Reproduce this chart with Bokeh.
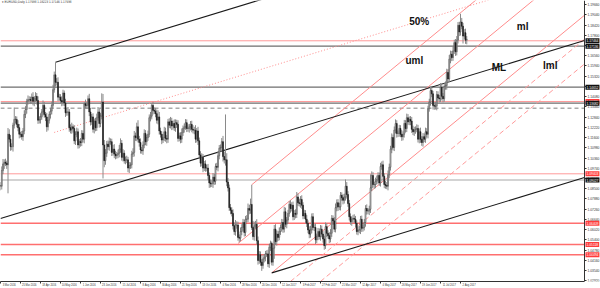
from bokeh.plotting import figure
from bokeh.models import Range1d, FixedTicker, Label, LinearAxis
from bokeh.embed import file_html
from bokeh.resources import INLINE
from bokeh.core.properties import value

# ---------------- data ----------------
date_labels = ["3 Mar 2016", "25 Mar 2016", "18 Apr 2016", "10 May 2016", "1 Jun 2016",
               "23 Jun 2016", "15 Jul 2016", "8 Aug 2016", "30 Aug 2016", "21 Sep 2016",
               "13 Oct 2016", "4 Nov 2016", "28 Nov 2016", "20 Dec 2016", "12 Jan 2017",
               "3 Feb 2017", "27 Feb 2017", "21 Mar 2017", "12 Apr 2017", "4 May 2017",
               "26 May 2017", "19 Jun 2017", "11 Jul 2017", "2 Aug 2017"]
bars_per_label = 16

first_open = 1.0870
closes = [
    1.0865, 1.0960, 1.1000, 1.1010, 1.1005, 1.0995, 1.1180, 1.1150, 1.1105, 1.1105,
    1.1235, 1.1270, 1.1270, 1.1240, 1.1220, 1.1180, 1.1180, 1.1165, 1.1200, 1.1300,
    1.1330, 1.1380, 1.1390, 1.1390, 1.1385, 1.1405, 1.1380, 1.1395, 1.1410, 1.1385,
    1.1265, 1.1270, 1.1285, 1.1315, 1.1355, 1.1300, 1.1285, 1.1225, 1.1265, 1.1300,
    1.1320, 1.1355, 1.1450, 1.1540, 1.1495, 1.1495, 1.1405, 1.1405, 1.1385, 1.1375,
    1.1430, 1.1370, 1.1310, 1.1315, 1.1315, 1.1220, 1.1205, 1.1225, 1.1215, 1.1140,
    1.1180, 1.1195, 1.1115, 1.1135, 1.1130, 1.1185, 1.1150, 1.1365, 1.1355, 1.1355,
    1.1395, 1.1315, 1.1255, 1.1285, 1.1210, 1.1260, 1.1220, 1.1280, 1.1315, 1.1245,
    1.1290, 1.1375, 1.1115, 1.1020, 1.1065, 1.1120, 1.1105, 1.1135, 1.1135, 1.1070,
    1.1090, 1.1060, 1.1050, 1.1055, 1.1065, 1.1090, 1.1125, 1.1040, 1.1065, 1.1020,
    1.1025, 1.1025, 1.0975, 1.0990, 1.0995, 1.1060, 1.1070, 1.1170, 1.1160, 1.1225,
    1.1150, 1.1130, 1.1085, 1.1080, 1.1115, 1.1185, 1.1135, 1.1160, 1.1180, 1.1280,
    1.1290, 1.1355, 1.1325, 1.1320, 1.1305, 1.1265, 1.1285, 1.1200, 1.1180, 1.1145,
    1.1160, 1.1195, 1.1155, 1.1150, 1.1255, 1.1235, 1.1260, 1.1230, 1.1245, 1.1220,
    1.1250, 1.1240, 1.1155, 1.1170, 1.1150, 1.1190, 1.1215, 1.1225, 1.1250, 1.1215,
    1.1215, 1.1225, 1.1240, 1.1210, 1.1205, 1.1205, 1.1150, 1.1200, 1.1140, 1.1055,
    1.1005, 1.1040, 1.0975, 1.1000, 1.0975, 1.0975, 1.0930, 1.0885, 1.0880, 1.0880,
    1.0920, 1.0895, 1.0985, 1.0980, 1.1050, 1.1095, 1.1100, 1.1135, 1.1045, 1.1025,
    1.1025, 1.0890, 1.0855, 1.0735, 1.0720, 1.0700, 1.0625, 1.0590, 1.0630, 1.0630,
    1.0555, 1.0550, 1.0590, 1.0615, 1.0645, 1.0585, 1.0665, 1.0665, 1.0730, 1.0720,
    1.0755, 1.0615, 1.0560, 1.0625, 1.0635, 1.0535, 1.0415, 1.0450, 1.0405, 1.0385,
    1.0425, 1.0435, 1.0455, 1.0455, 1.0395, 1.0495, 1.0520, 1.0405, 1.0490, 1.0605,
    1.0530, 1.0575, 1.0555, 1.0590, 1.0615, 1.0645, 1.0605, 1.0710, 1.0635, 1.0660,
    1.0700, 1.0755, 1.0730, 1.0750, 1.0680, 1.0700, 1.0695, 1.0800, 1.0765, 1.0760,
    1.0785, 1.0750, 1.0685, 1.0700, 1.0665, 1.0640, 1.0600, 1.0575, 1.0600, 1.0680,
    1.0615, 1.0615, 1.0540, 1.0560, 1.0590, 1.0560, 1.0605, 1.0575, 1.0545, 1.0505,
    1.0620, 1.0580, 1.0565, 1.0545, 1.0580, 1.0670, 1.0655, 1.0605, 1.0735, 1.0765,
    1.0740, 1.0740, 1.0810, 1.0795, 1.0780, 1.0800, 1.0865, 1.0815, 1.0760, 1.0680,
    1.0650, 1.0665, 1.0670, 1.0665, 1.0640, 1.0590, 1.0600, 1.0600, 1.0665, 1.0610,
    1.0615, 1.0645, 1.0730, 1.0715, 1.0715, 1.0725, 1.0855, 1.0930, 1.0875, 1.0875,
    1.0895, 1.0905, 1.0930, 1.0885, 1.0985, 1.0995, 1.0925, 1.0875, 1.0870, 1.0865,
    1.0935, 1.0980, 1.1090, 1.1160, 1.1100, 1.1205, 1.1245, 1.1185, 1.1185, 1.1215,
    1.1180, 1.1165, 1.1180, 1.1245, 1.1215, 1.1280, 1.1255, 1.1270, 1.1260, 1.1210,
    1.1195, 1.1205, 1.1210, 1.1215, 1.1150, 1.1195, 1.1150, 1.1130, 1.1165, 1.1150,
    1.1195, 1.1180, 1.1335, 1.1375, 1.1445, 1.1425, 1.1355, 1.1350, 1.1350, 1.1420,
    1.1400, 1.1395, 1.1465, 1.1410, 1.1395, 1.1470, 1.1475, 1.1555, 1.1515, 1.1635,
    1.1665, 1.1645, 1.1685, 1.1735, 1.1680, 1.1750, 1.1840, 1.1800, 1.1860, 1.1835,
    1.1775, 1.1795, 1.1750, 1.1755]

upper_wick_pips = [
    20, 25, 30, 18, 22, 15, 38, 30, 25, 20,  15, 72, 20, 18, 25, 22, 15, 20, 18, 25,
    20, 15, 25, 20, 18, 22, 30, 15, 25, 20,  25, 20, 22, 18, 30, 20, 15, 25, 20, 18,
    20, 22, 30, 20, 76, 25, 30, 20, 18, 25,  20, 15, 25, 20, 30, 18, 20, 25, 15, 20,
    18, 25, 20, 15, 22, 20, 18, 10, 25, 20,  20, 30, 25, 18, 22, 15, 20, 25, 30, 20,
    18, 53, 49, 30, 25, 20, 22, 25, 20, 18,  25, 30, 20, 18, 22, 25, 30, 20, 25, 18,
    20, 25, 18, 22, 15, 20, 25, 30, 20, 25,  40, 20, 25, 18, 22, 25, 20, 18, 22, 20,
    25, 11, 22, 18, 20, 25, 40, 30, 20, 18,  22, 30, 25, 20, 18, 22, 25, 20, 18, 25,
    20, 18, 25, 20, 22, 25, 18, 20, 22, 20,  25, 18, 20, 22, 25, 20, 30, 18, 25, 20,
    22, 25, 20, 18, 22, 20, 25, 18, 20, 22,  25, 20, 18, 22, 25, 20, 18, 22, 35, 30,
    275, 40, 25, 20, 22, 18, 25, 20, 30, 22, 20, 18, 25, 20, 22, 18, 20, 25, 30, 22,
    35, 119, 40, 25, 20, 30, 25, 22, 20, 18, 25, 20, 18, 22, 25, 20, 15, 10, 22, 25,
    30, 22, 20, 25, 18, 22, 20, 30, 25, 18,  22, 20, 25, 18, 22, 20, 25, 30, 22, 25,
    20, 25, 18, 22, 20, 25, 18, 22, 25, 20,  22, 20, 25, 18, 22, 20, 25, 22, 18, 20,
    25, 20, 18, 22, 25, 20, 18, 22, 25, 20,  22, 25, 20, 18, 22, 20, 41, 25, 20, 22,
    20, 18, 22, 25, 20, 18, 22, 25, 20, 22,  18, 22, 20, 25, 18, 22, 82, 25, 20, 18,
    22, 25, 20, 18, 22, 20, 25, 18, 22, 20,  25, 22, 20, 25, 18, 22, 25, 20, 18, 22,
    20, 25, 18, 22, 20, 25, 22, 18, 20, 25,  22, 20, 18, 25, 22, 20, 25, 18, 22, 20,
    25, 22, 18, 20, 25, 22, 18, 20, 25, 22,  20, 18, 25, 22, 20, 18, 25, 22, 20, 25,
    22, 20, 25, 18, 22, 25, 20, 22, 50, 25,  20, 22, 25, 20]

lower_wick_pips = [
    25, 20, 22, 30, 18, 25, 173, 20, 25, 22, 30, 20, 25, 18, 22, 25, 20, 18, 25, 20,
    22, 25, 20, 18, 22, 20, 25, 30, 20, 25,  22, 20, 25, 18, 22, 20, 25, 30, 22, 20,
    25, 20, 22, 18, 25, 20, 25, 22, 20, 25,  22, 20, 25, 18, 22, 25, 20, 22, 25, 20,
    25, 18, 22, 20, 25, 22, 20, 25, 18, 22,  20, 25, 22, 18, 20, 25, 22, 20, 18, 25,
    22, 20, 203, 40, 25, 22, 20, 25, 18, 22, 20, 25, 22, 18, 20, 25, 22, 20, 25, 18,
    22, 20, 25, 30, 20, 22, 18, 25, 20, 22,  20, 25, 22, 18, 25, 20, 22, 25, 20, 18,
    22, 20, 25, 18, 22, 20, 25, 22, 20, 25,  18, 22, 20, 25, 22, 18, 20, 25, 22, 20,
    25, 22, 20, 18, 25, 22, 20, 25, 18, 22,  20, 25, 22, 18, 20, 25, 22, 20, 25, 18,
    22, 20, 25, 18, 22, 20, 25, 30, 22, 20,  25, 22, 20, 18, 25, 22, 20, 25, 30, 22,
    35, 25, 22, 20, 25, 18, 22, 20, 25, 22,  20, 25, 18, 22, 20, 25, 22, 20, 18, 25,
    22, 15, 20, 25, 18, 22, 25, 20, 22, 33,  20, 22, 25, 18, 20, 25, 22, 20, 22, 65,
    20, 25, 22, 18, 20, 25, 22, 20, 18, 25,  22, 20, 25, 18, 22, 20, 25, 22, 20, 18,
    25, 22, 20, 18, 25, 22, 20, 25, 22, 20,  18, 22, 25, 20, 22, 18, 25, 20, 22, 25,
    20, 22, 18, 25, 20, 22, 25, 18, 20, 22,  25, 20, 22, 18, 25, 20, 22, 25, 20, 22,
    18, 25, 22, 20, 25, 18, 22, 20, 25, 22,  20, 18, 25, 22, 20, 25, 22, 20, 18, 25,
    22, 20, 25, 18, 22, 20, 25, 22, 20, 18,  25, 22, 20, 25, 18, 22, 20, 25, 22, 20,
    18, 25, 22, 20, 25, 22, 18, 20, 25, 22,  20, 25, 22, 18, 20, 25, 22, 20, 25, 18,
    22, 20, 25, 18, 22, 20, 25, 22, 20, 25,  18, 22, 20, 25, 22, 18, 20, 25, 22, 20,
    25, 22, 20, 18, 25, 22, 20, 25, 22, 18,  45, 20, 22, 25]

# horizontal levels
red_levels = [1.17464, 1.13785, 1.09403]
red_strong_levels = [1.06409, 1.05118, 1.04494]
black_levels = [1.17136, 1.14652, 1.13682]
grey_levels = [1.09027]
dashed_levels = [1.13379]

# right price scale
price_ticks = [1.02920, 1.03540, 1.04160, 1.04780, 1.05400, 1.06020, 1.06640, 1.07260,
               1.07880, 1.08500, 1.09120, 1.09740, 1.10360, 1.10980, 1.11600, 1.12220,
               1.12840, 1.13460, 1.14080, 1.14700, 1.15320, 1.15940, 1.16560, 1.17180,
               1.17800, 1.18420, 1.19040, 1.19660]

# black pitchfork: anchors (bar, price), common slope per bar
black_slope = 0.000231
fork_median = (0, 1.0669)
fork_upper = (44, 1.1616)
fork_lower = (217, 1.0340)
fork_half = (43, 1.1191)

# red pitchfork lines: anchors (bar, price), common slope per bar
red_slope = 0.000624
red_solid = [(201, 1.0874), (190, 1.0518), (217, 1.0340)]
red_dashed = [(232, 1.0288), (256, 1.0288)]

title_text = "\u25BE EURUSD,Daily  1.17698 1.18223 1.17146 1.17698"

# ---------------- figure ----------------
n = len(closes)
x_end = 467.2          # last visible bar position (price scale sits here)
x_full = 480.0         # frame includes the price-scale strip
y_lo, y_hi = 1.02876, 1.19906

p = figure(frame_width=600, frame_height=281, x_range=Range1d(0, x_full),
           y_range=Range1d(y_lo, y_hi), y_axis_location=None,
           output_backend="svg", toolbar_location=None,
           min_border_left=0, min_border_top=0, min_border_right=0, min_border_bottom=7)
p.outline_line_color = None
p.xgrid.visible = False
p.ygrid.visible = False
p.background_fill_color = "white"
p.border_fill_color = "white"

# horizontal lines
for lv in red_levels:
    p.line([0, x_end], [lv, lv], line_color="#ff9a9a", line_width=1)
for lv in red_strong_levels:
    p.line([0, x_end], [lv, lv], line_color="#ff6f6f", line_width=1.6)
for lv in black_levels:
    p.line([0, x_end], [lv, lv], line_color="#6e6e6e", line_width=1.2)
for lv in grey_levels:
    p.line([0, x_end], [lv, lv], line_color="#a8a8a8", line_width=1.2)
for lv in dashed_levels:
    p.line([0, x_end], [lv, lv], line_color="#aaaaaa", line_width=1.4, line_dash="4 3")


def ext(anchor, slope, x0=None, x1=x_end):
    bx, by = anchor
    if x0 is None:
        x0 = bx
    return [x0, x1], [by + slope * (x0 - bx), by + slope * (x1 - bx)]


# red pitchfork
for a in red_solid:
    xs, ys = ext(a, red_slope)
    p.line(xs, ys, line_color="#ff8c8c", line_width=1)
for a in red_dashed:
    xs, ys = ext(a, red_slope)
    p.line(xs, ys, line_color="#ff9a9a", line_width=1, line_dash="5 3")

# black pitchfork
for a in (fork_median, fork_upper, fork_lower):
    xs, ys = ext(a, black_slope)
    p.line(xs, ys, line_color="#1a1a1a", line_width=1.1)
xs, ys = ext(fork_half, black_slope)
p.line(xs, ys, line_color="#ff8c8c", line_width=1, line_dash="1 2")

# candles
opens = [first_open] + closes[:-1]
idx = list(range(n))
tops = [max(o, c) for o, c in zip(opens, closes)]
bots = [min(o, c) for o, c in zip(opens, closes)]
highs = [t + u / 10000 for t, u in zip(tops, upper_wick_pips)]
lows = [b - l / 10000 for b, l in zip(bots, lower_wick_pips)]
p.segment(x0=idx, y0=lows, x1=idx, y1=highs, line_color="#8a8a8a", line_width=1)
bull = [i for i in idx if closes[i] >= opens[i]]
bear = [i for i in idx if closes[i] < opens[i]]
p.vbar(x=bull, width=0.7, top=[tops[i] for i in bull], bottom=[bots[i] for i in bull],
       fill_color="white", line_color="#444444", line_width=0.6)
p.vbar(x=bear, width=0.7, top=[tops[i] for i in bear], bottom=[bots[i] for i in bear],
       fill_color="#1a1a1a", line_color="#1a1a1a", line_width=0.6)

# text annotations
font = value("Liberation Sans")
for tx, ty, tt in ((327, 1.1833, "50%"), (413, 1.1797, "ml"), (324, 1.1591, "uml"),
                   (393, 1.1554, "ML"), (434, 1.1566, "lml")):
    p.text(x=[tx], y=[ty], text=[tt], text_font=font, text_font_style="bold",
           text_font_size="10px", text_color="#111111", text_baseline="bottom")

p.add_layout(Label(x=1, y=1.1985, text=title_text, text_font_size="3px",
                   text_color="#333333", text_baseline="middle"))

# price scale (library axis placed at the last-bar edge)
yax = LinearAxis(fixed_location=x_end)
yax.ticker = FixedTicker(ticks=price_ticks)
yax.major_label_overrides = {t: "%.5f" % t for t in price_ticks}
yax.major_label_text_font_size = "3.3px"
yax.major_label_text_color = "#333333"
yax.major_label_standoff = 1
yax.major_tick_out = 2
yax.major_tick_in = 0
yax.minor_tick_out = 0
yax.minor_tick_in = 0
yax.axis_line_color = "#333333"
yax.major_tick_line_color = "#333333"
p.add_layout(yax, "right")

label_ticks = [k * bars_per_label for k in range(len(date_labels))]
label_centers = [t + 7 for t in label_ticks]
xax = p.xaxis[0]
xax.ticker = FixedTicker(ticks=label_centers, minor_ticks=label_ticks)
xax.major_label_overrides = {c: d for c, d in zip(label_centers, date_labels)}
xax.major_label_text_font_size = "2.6px"
xax.major_label_text_color = "#333333"
xax.major_label_standoff = 1
xax.major_tick_out = 0
xax.major_tick_in = 0
xax.minor_tick_out = 2
xax.minor_tick_in = 0
xax.axis_line_color = "#333333"
xax.minor_tick_line_color = "#333333"
xax.bounds = (0, x_end)

# price boxes on the right scale
box_red = red_levels[1:] + red_strong_levels
box_dark = red_levels[:1] + black_levels + grey_levels
for lv in box_red:
    p.add_layout(Label(x=x_end, y=lv, text="%.5f" % lv, x_offset=1, text_font_size="3.3px",
                       text_color="white", text_baseline="middle",
                       background_fill_color="#ff3b3b", padding=1))
for lv in box_dark:
    p.add_layout(Label(x=x_end, y=lv, text="%.5f" % lv, x_offset=1, text_font_size="3.3px",
                       text_color="white", text_baseline="middle",
                       background_fill_color="#111111", padding=1))

open("out.html", "w").write(file_html(p, INLINE))
